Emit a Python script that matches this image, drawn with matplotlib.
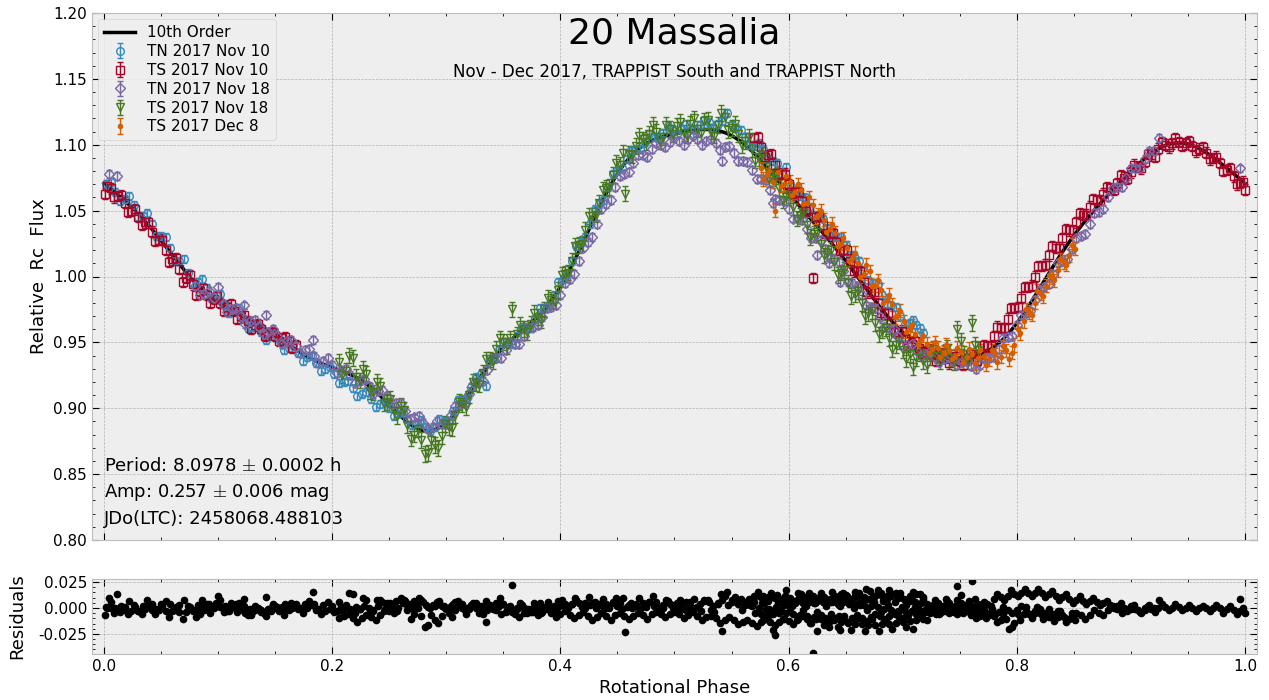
import numpy as np
import matplotlib
matplotlib.use("Agg")
import matplotlib.pyplot as plt
from matplotlib.ticker import AutoMinorLocator, MultipleLocator, FormatStrFormatter

# ── lightcurve data: (rotational phase, relative Rc flux) per night ──

tn_nov10_phase = [0.002, 0.010, 0.018, 0.026, 0.034, 0.042, 0.050, 0.058, 0.066, 0.074,
                  0.082, 0.090, 0.098, 0.106, 0.114, 0.122, 0.130, 0.138, 0.146, 0.154,
                  0.162, 0.170, 0.178, 0.186, 0.194, 0.202, 0.210, 0.218, 0.226, 0.234,
                  0.242, 0.250, 0.258, 0.266, 0.274, 0.282, 0.290, 0.298, 0.306, 0.314,
                  0.322, 0.330, 0.335, 0.338, 0.346, 0.354, 0.362, 0.370, 0.378, 0.386,
                  0.394, 0.402, 0.410, 0.418, 0.426, 0.434, 0.442, 0.450, 0.458, 0.466,
                  0.474, 0.482, 0.490, 0.498, 0.506, 0.514, 0.522, 0.530, 0.538, 0.546,
                  0.554, 0.562, 0.570, 0.578, 0.586, 0.594, 0.602, 0.610, 0.618, 0.626,
                  0.634, 0.642, 0.650, 0.658, 0.666, 0.674, 0.682, 0.690, 0.698, 0.706,
                  0.712, 0.718,
                  0.006, 0.014, 0.022, 0.030, 0.038, 0.046, 0.054, 0.062, 0.070, 0.078,
                  0.086, 0.094, 0.102, 0.110, 0.118, 0.126, 0.134, 0.142, 0.150, 0.158,
                  0.166, 0.174, 0.182, 0.190, 0.198, 0.206, 0.214, 0.222, 0.230, 0.238,
                  0.246, 0.254, 0.262, 0.270, 0.278, 0.286, 0.294, 0.302, 0.310, 0.318,
                  0.326, 0.342, 0.350, 0.358, 0.366, 0.374, 0.382, 0.390, 0.398, 0.406,
                  0.414, 0.422, 0.430, 0.438, 0.446, 0.454, 0.462, 0.470, 0.478, 0.486,
                  0.494, 0.502, 0.510, 0.518, 0.526, 0.534, 0.542, 0.550, 0.558, 0.566,
                  0.574, 0.582, 0.590, 0.598, 0.606, 0.614, 0.622, 0.630, 0.638, 0.646,
                  0.654, 0.662, 0.670, 0.678, 0.686, 0.694, 0.702, 0.709, 0.715]
tn_nov10_flux = [1.070, 1.064, 1.059, 1.054, 1.046, 1.040, 1.031, 1.022, 1.012, 1.003,
                 0.996, 0.991, 0.986, 0.979, 0.974, 0.968, 0.962, 0.958, 0.955, 0.951,
                 0.946, 0.942, 0.939, 0.934, 0.930, 0.926, 0.920, 0.915, 0.911, 0.907,
                 0.903, 0.900, 0.896, 0.892, 0.889, 0.886, 0.886, 0.890, 0.898, 0.907,
                 0.916, 0.926, 0.917, 0.936, 0.944, 0.950, 0.955, 0.961, 0.968, 0.976,
                 0.986, 0.998, 1.012, 1.026, 1.040, 1.055, 1.068, 1.080, 1.089, 1.097,
                 1.102, 1.106, 1.109, 1.111, 1.112, 1.113, 1.115, 1.117, 1.116, 1.124,
                 1.113, 1.106, 1.099, 1.097, 1.088, 1.078, 1.069, 1.061, 1.053, 1.045,
                 1.037, 1.030, 1.024, 1.014, 1.004, 0.995, 0.986, 0.978, 0.970, 0.965,
                 0.963, 0.957,
                 1.072, 1.057, 1.061, 1.045, 1.048, 1.031, 1.030, 1.012, 1.013, 0.995,
                 0.998, 0.984, 0.987, 0.972, 0.976, 0.961, 0.964, 0.952, 0.957, 0.944,
                 0.948, 0.936, 0.940, 0.928, 0.931, 0.919, 0.921, 0.909, 0.912, 0.901,
                 0.905, 0.894, 0.897, 0.887, 0.891, 0.883, 0.892, 0.890, 0.906, 0.908,
                 0.924, 0.937, 0.950, 0.949, 0.962, 0.961, 0.976, 0.978, 0.996, 1.002,
                 1.023, 1.030, 1.051, 1.058, 1.078, 1.082, 1.096, 1.097, 1.108, 1.105,
                 1.114, 1.108, 1.116, 1.111, 1.119, 1.113, 1.118, 1.115, 1.111, 1.100,
                 1.101, 1.089, 1.086, 1.083, 1.062, 1.060, 1.046, 1.044, 1.031, 1.030,
                 1.016, 1.012, 0.997, 0.994, 0.979, 0.977, 0.964, 0.967, 0.961]

ts_nov10_phase = [0.001, 0.006, 0.012, 0.018, 0.024, 0.030, 0.036, 0.042, 0.048, 0.054,
                  0.060, 0.066, 0.072, 0.078, 0.084, 0.090, 0.096, 0.102, 0.108, 0.114,
                  0.120, 0.126, 0.132, 0.138, 0.144, 0.150, 0.156, 0.162, 0.168,
                  0.570, 0.576, 0.582, 0.588, 0.594, 0.600, 0.606, 0.612, 0.618, 0.621,
                  0.624, 0.630, 0.636, 0.642, 0.648, 0.654, 0.660, 0.666, 0.672, 0.678,
                  0.684, 0.690, 0.696, 0.702, 0.708, 0.714, 0.720, 0.726, 0.732, 0.738,
                  0.744, 0.750, 0.756, 0.762, 0.768, 0.774, 0.780, 0.786, 0.792, 0.798,
                  0.804, 0.810, 0.816, 0.822, 0.828, 0.834, 0.840, 0.846, 0.852, 0.858,
                  0.864, 0.870, 0.876, 0.882, 0.888, 0.894, 0.900, 0.906, 0.912, 0.918,
                  0.924, 0.930, 0.936, 0.942, 0.948, 0.954, 0.960, 0.966, 0.972, 0.978,
                  0.984, 0.990, 0.996, 1.000,
                  0.003, 0.009, 0.015, 0.021, 0.027, 0.033, 0.039, 0.045, 0.051, 0.057,
                  0.063, 0.069, 0.075, 0.081, 0.087, 0.093, 0.099, 0.105, 0.111, 0.117,
                  0.123, 0.129, 0.135, 0.141, 0.147, 0.153, 0.159, 0.165,
                  0.573, 0.579, 0.585, 0.591, 0.597, 0.603, 0.609, 0.615, 0.627, 0.633,
                  0.639, 0.645, 0.651, 0.657, 0.663, 0.669, 0.675, 0.681, 0.687, 0.693,
                  0.699, 0.705, 0.711, 0.717, 0.723, 0.729, 0.735, 0.741, 0.747, 0.753,
                  0.759, 0.765, 0.771, 0.777, 0.783, 0.789, 0.795, 0.801, 0.807, 0.813,
                  0.819, 0.825, 0.831, 0.837, 0.843, 0.849, 0.855, 0.861, 0.867, 0.873,
                  0.879, 0.885, 0.891, 0.897, 0.903, 0.909, 0.915, 0.921, 0.927, 0.933,
                  0.939, 0.945, 0.951, 0.957, 0.963, 0.969, 0.975, 0.981, 0.987, 0.993,
                  0.998]
ts_nov10_flux = [1.063, 1.067, 1.061, 1.056, 1.050, 1.045, 1.041, 1.034, 1.028, 1.020,
                 1.013, 1.006, 0.999, 0.994, 0.989, 0.986, 0.983, 0.980, 0.977, 0.974,
                 0.970, 0.966, 0.963, 0.960, 0.957, 0.955, 0.953, 0.951, 0.948,
                 1.105, 1.098, 1.092, 1.085, 1.078, 1.070, 1.064, 1.057, 1.051, 0.999,
                 1.045, 1.039, 1.033, 1.026, 1.020, 1.012, 1.004, 0.996, 0.988, 0.980,
                 0.972, 0.965, 0.958, 0.953, 0.949, 0.946, 0.943, 0.941, 0.939, 0.938,
                 0.937, 0.936, 0.937, 0.938, 0.941, 0.947, 0.955, 0.961, 0.968, 0.976,
                 0.984, 0.992, 1.000, 1.008, 1.016, 1.022, 1.029, 1.035, 1.041, 1.047,
                 1.053, 1.058, 1.063, 1.067, 1.071, 1.075, 1.079, 1.083, 1.087, 1.092,
                 1.097, 1.100, 1.101, 1.102, 1.101, 1.099, 1.097, 1.094, 1.090, 1.086,
                 1.081, 1.076, 1.071, 1.066,
                 1.069, 1.060, 1.062, 1.049, 1.051, 1.039, 1.041, 1.027, 1.028, 1.011,
                 1.014, 0.996, 1.001, 0.986, 0.991, 0.980, 0.985, 0.974, 0.979, 0.968,
                 0.971, 0.960, 0.964, 0.955, 0.958, 0.951, 0.954, 0.946,
                 1.106, 1.091, 1.093, 1.077, 1.078, 1.063, 1.064, 1.050, 1.046, 1.032,
                 1.033, 1.019, 1.020, 1.004, 1.004, 0.988, 0.988, 0.972, 0.972, 0.958,
                 0.959, 0.947, 0.951, 0.941, 0.945, 0.936, 0.942, 0.934, 0.940, 0.933,
                 0.941, 0.936, 0.948, 0.947, 0.962, 0.961, 0.976, 0.977, 0.992, 0.993,
                 1.008, 1.009, 1.023, 1.022, 1.036, 1.035, 1.048, 1.047, 1.059, 1.058,
                 1.068, 1.066, 1.077, 1.074, 1.085, 1.082, 1.093, 1.091, 1.102, 1.098,
                 1.105, 1.099, 1.103, 1.095, 1.098, 1.089, 1.091, 1.080, 1.082, 1.070,
                 1.072]

tn_nov18_phase = [0.004, 0.011, 0.080, 0.088, 0.096, 0.100, 0.104, 0.112, 0.120, 0.123,
                  0.128, 0.136, 0.142, 0.144, 0.152, 0.160, 0.168, 0.176, 0.183, 0.184,
                  0.192, 0.200, 0.208, 0.216, 0.224, 0.232, 0.240, 0.248, 0.256, 0.264,
                  0.272, 0.280, 0.288, 0.296, 0.304, 0.312, 0.320, 0.328, 0.336, 0.344,
                  0.352, 0.360, 0.368, 0.376, 0.384, 0.392, 0.400, 0.408, 0.416, 0.424,
                  0.432, 0.440, 0.448, 0.456, 0.464, 0.472, 0.480, 0.488, 0.496, 0.504,
                  0.512, 0.520, 0.528, 0.536, 0.542, 0.544, 0.552, 0.560, 0.568, 0.576,
                  0.584, 0.586, 0.592, 0.600, 0.608, 0.616, 0.624, 0.625, 0.632, 0.635,
                  0.640, 0.645, 0.648, 0.656, 0.664, 0.672, 0.680, 0.688, 0.696, 0.704,
                  0.712, 0.720, 0.728, 0.736, 0.744, 0.752, 0.760, 0.768, 0.776, 0.784,
                  0.792, 0.800, 0.808, 0.816, 0.824, 0.832, 0.840, 0.848, 0.856, 0.864,
                  0.872, 0.880, 0.888, 0.896, 0.904, 0.912, 0.920, 0.925, 0.996,
                  0.084, 0.092, 0.108, 0.116, 0.124, 0.132, 0.140, 0.148, 0.156, 0.164,
                  0.172, 0.180, 0.188, 0.196, 0.204, 0.212, 0.220, 0.228, 0.236, 0.244,
                  0.252, 0.260, 0.268, 0.276, 0.284, 0.292, 0.300, 0.308, 0.316, 0.324,
                  0.332, 0.340, 0.348, 0.356, 0.364, 0.372, 0.380, 0.388, 0.396, 0.404,
                  0.412, 0.420, 0.428, 0.436, 0.444, 0.452, 0.460, 0.468, 0.476, 0.484,
                  0.492, 0.500, 0.508, 0.516, 0.524, 0.532, 0.540, 0.548, 0.556, 0.564,
                  0.572, 0.580, 0.588, 0.596, 0.604, 0.612, 0.620, 0.628, 0.636, 0.644,
                  0.652, 0.660, 0.668, 0.676, 0.684, 0.692, 0.700, 0.708, 0.716, 0.724,
                  0.732, 0.740, 0.748, 0.756, 0.764, 0.772, 0.780, 0.788, 0.796, 0.804,
                  0.812, 0.820, 0.828, 0.836, 0.844, 0.852, 0.860, 0.868, 0.876, 0.884,
                  0.892, 0.900, 0.908, 0.916]
tn_nov18_flux = [1.078, 1.076, 0.993, 0.987, 0.984, 0.992, 0.979, 0.975, 0.970, 0.978,
                 0.966, 0.962, 0.971, 0.958, 0.955, 0.951, 0.947, 0.944, 0.952, 0.940,
                 0.936, 0.933, 0.929, 0.925, 0.921, 0.917, 0.913, 0.909, 0.904, 0.898,
                 0.893, 0.889, 0.886, 0.888, 0.895, 0.903, 0.911, 0.920, 0.929, 0.938,
                 0.944, 0.949, 0.955, 0.962, 0.969, 0.977, 0.986, 0.998, 1.012, 1.026,
                 1.040, 1.055, 1.068, 1.078, 1.086, 1.092, 1.097, 1.100, 1.102, 1.103,
                 1.104, 1.104, 1.103, 1.101, 1.088, 1.098, 1.094, 1.088, 1.081, 1.074,
                 1.066, 1.056, 1.058, 1.051, 1.044, 1.036, 1.029, 1.016, 1.021, 1.010,
                 1.013, 0.996, 1.004, 0.995, 0.986, 0.977, 0.969, 0.961, 0.954, 0.948,
                 0.944, 0.941, 0.939, 0.937, 0.936, 0.935, 0.932, 0.933, 0.938, 0.945,
                 0.954, 0.963, 0.972, 0.982, 0.992, 1.002, 1.012, 1.021, 1.031, 1.040,
                 1.049, 1.060, 1.068, 1.075, 1.082, 1.089, 1.095, 1.105, 1.082,
                 0.986, 0.989, 0.973, 0.976, 0.964, 0.967, 0.956, 0.960, 0.949, 0.952,
                 0.942, 0.945, 0.934, 0.938, 0.927, 0.930, 0.919, 0.922, 0.911, 0.914,
                 0.903, 0.904, 0.892, 0.894, 0.884, 0.890, 0.888, 0.902, 0.904, 0.919,
                 0.921, 0.937, 0.938, 0.950, 0.949, 0.962, 0.963, 0.976, 0.978, 0.995,
                 1.002, 1.022, 1.030, 1.051, 1.058, 1.076, 1.079, 1.092, 1.091, 1.101,
                 1.098, 1.105, 1.100, 1.107, 1.100, 1.104, 1.096, 1.099, 1.088, 1.087,
                 1.074, 1.073, 1.059, 1.057, 1.044, 1.043, 1.029, 1.028, 1.014, 1.011,
                 0.996, 0.993, 0.978, 0.976, 0.962, 0.960, 0.948, 0.949, 0.940, 0.943,
                 0.935, 0.939, 0.933, 0.936, 0.930, 0.938, 0.939, 0.953, 0.955, 0.971,
                 0.974, 0.990, 0.994, 1.010, 1.013, 1.029, 1.032, 1.048, 1.051, 1.067,
                 1.068, 1.082, 1.082, 1.095]

ts_nov18_phase = [0.206, 0.212, 0.218, 0.224, 0.230, 0.236, 0.242, 0.248, 0.254, 0.260,
                  0.266, 0.272, 0.278, 0.284, 0.290, 0.296, 0.302, 0.308, 0.314, 0.320,
                  0.326, 0.332, 0.338, 0.344, 0.350, 0.356, 0.358, 0.362, 0.368, 0.374,
                  0.380, 0.386, 0.392, 0.398, 0.404, 0.410, 0.416, 0.422, 0.428, 0.434,
                  0.440, 0.446, 0.452, 0.455, 0.457, 0.460, 0.466, 0.472, 0.478, 0.484,
                  0.490, 0.496, 0.502, 0.508, 0.514, 0.520, 0.526, 0.532, 0.538, 0.544,
                  0.550, 0.556, 0.562, 0.568, 0.574, 0.580, 0.586, 0.592, 0.598, 0.604,
                  0.610, 0.616, 0.622, 0.628, 0.634, 0.640, 0.646, 0.652, 0.658, 0.664,
                  0.670, 0.676, 0.682, 0.688, 0.694, 0.700, 0.706, 0.709, 0.712, 0.718,
                  0.724, 0.730, 0.736, 0.742, 0.748, 0.754, 0.761, 0.766,
                  0.209, 0.215, 0.221, 0.227, 0.233, 0.239, 0.245, 0.251, 0.257, 0.263,
                  0.269, 0.275, 0.281, 0.287, 0.293, 0.299, 0.305, 0.311, 0.317, 0.323,
                  0.329, 0.335, 0.341, 0.347, 0.353, 0.365, 0.371, 0.377, 0.383, 0.389,
                  0.395, 0.401, 0.407, 0.413, 0.419, 0.425, 0.431, 0.437, 0.443, 0.449,
                  0.463, 0.469, 0.475, 0.481, 0.487, 0.493, 0.499, 0.505, 0.511, 0.517,
                  0.523, 0.529, 0.535, 0.541, 0.547, 0.553, 0.559, 0.565, 0.571, 0.577,
                  0.583, 0.589, 0.595, 0.601, 0.607, 0.613, 0.619, 0.625, 0.631, 0.637,
                  0.643, 0.649, 0.655, 0.661, 0.667, 0.673, 0.679, 0.685, 0.691, 0.697,
                  0.703, 0.715, 0.721, 0.727, 0.733, 0.739, 0.745, 0.751, 0.757, 0.763]
ts_nov18_flux = [0.935, 0.928, 0.938, 0.921, 0.926, 0.912, 0.917, 0.905, 0.898, 0.902,
                 0.887, 0.880, 0.876, 0.866, 0.872, 0.879, 0.886, 0.895, 0.903, 0.910,
                 0.919, 0.927, 0.937, 0.945, 0.950, 0.953, 0.975, 0.956, 0.960, 0.964,
                 0.969, 0.975, 0.982, 0.990, 1.002, 1.012, 1.024, 1.035, 1.046, 1.056,
                 1.067, 1.077, 1.085, 1.094, 1.063, 1.093, 1.099, 1.104, 1.108, 1.110,
                 1.106, 1.112, 1.114, 1.109, 1.116, 1.112, 1.118, 1.110, 1.115, 1.121,
                 1.113, 1.108, 1.103, 1.097, 1.090, 1.083, 1.075, 1.067, 1.060, 1.053,
                 1.046, 1.039, 1.032, 1.025, 1.018, 1.011, 1.003, 0.995, 0.987, 0.980,
                 0.972, 0.965, 0.959, 0.953, 0.948, 0.944, 0.941, 0.931, 0.938, 0.936,
                 0.939, 0.940, 0.942, 0.938, 0.960, 0.941, 0.965, 0.944,
                 0.925, 0.940, 0.924, 0.930, 0.913, 0.920, 0.904, 0.907, 0.894, 0.899,
                 0.877, 0.884, 0.865, 0.876, 0.870, 0.888, 0.885, 0.905, 0.901, 0.920,
                 0.918, 0.937, 0.936, 0.953, 0.947, 0.963, 0.958, 0.972, 0.967, 0.984,
                 0.981, 1.001, 1.003, 1.023, 1.025, 1.046, 1.047, 1.066, 1.068, 1.086,
                 1.092, 1.107, 1.102, 1.115, 1.103, 1.115, 1.108, 1.117, 1.107, 1.120,
                 1.109, 1.119, 1.107, 1.124, 1.111, 1.116, 1.100, 1.106, 1.088, 1.092,
                 1.074, 1.076, 1.058, 1.062, 1.044, 1.048, 1.030, 1.034, 1.016, 1.020,
                 1.001, 1.005, 0.985, 0.989, 0.970, 0.974, 0.956, 0.961, 0.945, 0.951,
                 0.937, 0.942, 0.933, 0.945, 0.936, 0.946, 0.935, 0.951, 0.936, 0.948]

ts_dec8_phase = [0.576, 0.581, 0.586, 0.588, 0.591, 0.596, 0.601, 0.606, 0.611, 0.616,
                 0.621, 0.626, 0.631, 0.636, 0.641, 0.646, 0.651, 0.656, 0.661, 0.666,
                 0.671, 0.676, 0.681, 0.686, 0.691, 0.696, 0.701, 0.706, 0.711, 0.716,
                 0.721, 0.726, 0.731, 0.736, 0.741, 0.746, 0.751, 0.756, 0.761, 0.766,
                 0.771, 0.776, 0.781, 0.786, 0.791, 0.796, 0.801, 0.806, 0.811, 0.816,
                 0.821, 0.826, 0.831, 0.836, 0.841, 0.846, 0.851,
                 0.578, 0.583, 0.593, 0.598, 0.603, 0.608, 0.613, 0.618, 0.623, 0.628,
                 0.633, 0.638, 0.643, 0.648, 0.653, 0.658, 0.663, 0.668, 0.673, 0.678,
                 0.683, 0.688, 0.693, 0.698, 0.703, 0.708, 0.713, 0.718, 0.723, 0.728,
                 0.733, 0.738, 0.743, 0.748, 0.753, 0.758, 0.763, 0.768, 0.773, 0.778,
                 0.783, 0.788, 0.793, 0.798, 0.803, 0.808, 0.813, 0.818, 0.823, 0.828,
                 0.833, 0.838, 0.843, 0.848]
ts_dec8_flux = [1.082, 1.077, 1.072, 1.050, 1.079, 1.070, 1.072, 1.064, 1.066, 1.056,
                1.054, 1.047, 1.043, 1.036, 1.033, 1.025, 1.022, 1.014, 1.010, 1.002,
                1.004, 0.993, 0.990, 0.982, 0.979, 0.971, 0.966, 0.960, 0.956, 0.952,
                0.949, 0.945, 0.946, 0.942, 0.944, 0.940, 0.943, 0.939, 0.941, 0.938,
                0.940, 0.937, 0.941, 0.939, 0.944, 0.942, 0.960, 0.966, 0.973, 0.980,
                0.987, 0.993, 0.999, 1.005, 1.011, 1.016, 1.021,
                1.074, 1.080, 1.069, 1.076, 1.062, 1.070, 1.055, 1.060, 1.045, 1.050,
                1.034, 1.040, 1.023, 1.029, 1.012, 1.018, 1.000, 1.009, 0.993, 0.997,
                0.980, 0.986, 0.969, 0.974, 0.958, 0.963, 0.949, 0.955, 0.942, 0.950,
                0.939, 0.948, 0.937, 0.946, 0.935, 0.945, 0.934, 0.944, 0.933, 0.944,
                0.935, 0.947, 0.937, 0.948, 0.957, 0.975, 0.971, 0.989, 0.985, 1.001,
                0.997, 1.013, 1.009, 1.024]

NIGHTS = [
    ("TN 2017 Nov 10", tn_nov10_phase, tn_nov10_flux, 0.003, "o", "#348ABD"),
    ("TS 2017 Nov 10", ts_nov10_phase, ts_nov10_flux, 0.004, "s", "#A60628"),
    ("TN 2017 Nov 18", tn_nov18_phase, tn_nov18_flux, 0.003, "D", "#7A68A6"),
    ("TS 2017 Nov 18", ts_nov18_phase, ts_nov18_flux, 0.006, "v", "#467821"),
    ("TS 2017 Dec 8",  ts_dec8_phase,  ts_dec8_flux,  0.005, ".", "#D55E00"),
]
FIT_ORDER = 10

# ── Fourier fit ────────────────────────────────────────────────

def fourier_design(phase, order):
    phase = np.asarray(phase)
    cols = [np.ones_like(phase)]
    for k in range(1, order + 1):
        cols.append(np.cos(2 * np.pi * k * phase))
        cols.append(np.sin(2 * np.pi * k * phase))
    return np.column_stack(cols)

all_phase = np.concatenate([np.asarray(n[1]) for n in NIGHTS])
all_flux  = np.concatenate([np.asarray(n[2]) for n in NIGHTS])
coef, *_ = np.linalg.lstsq(fourier_design(all_phase, FIT_ORDER), all_flux, rcond=None)
resid = all_flux - fourier_design(all_phase, FIT_ORDER) @ coef
grid = np.linspace(0, 1, 600)
model = fourier_design(grid, FIT_ORDER) @ coef

# ── plot ───────────────────────────────────────────────────────

plt.style.use("bmh")
fig = plt.figure(figsize=(12.69, 7.0), dpi=100)
fig.patch.set_facecolor("white")
ax  = fig.add_axes([0.0725, 0.2286, 0.918, 0.7528])
ax2 = fig.add_axes([0.0725, 0.0657, 0.918, 0.1071], sharex=ax)

ax.plot(grid, model, color="black", lw=2.5, zorder=1, label=f"{FIT_ORDER}th Order")
for label, ph, fl, err, mk, col in NIGHTS:
    filled = mk == "."
    ax.errorbar(ph, fl, yerr=err, fmt=mk, color=col, ecolor=col,
                mfc=col if filled else "none", mec=col,
                ms=6 if filled else 5.5, mew=1, elinewidth=1, capsize=2,
                capthick=1, label=label, zorder=2)

ax.set_xlim(-0.0105, 1.0105)
ax.set_ylim(0.80, 1.20)
ax.yaxis.set_major_locator(MultipleLocator(0.05))
ax.xaxis.set_major_locator(MultipleLocator(0.2))
ax.set_ylabel("Relative  Rc  Flux", fontsize=13)
plt.setp(ax.get_xticklabels(), visible=False)

ax.text(0.5, 0.962, "20 Massalia", transform=ax.transAxes, ha="center",
        va="center", fontsize=26)
ax.text(0.5, 0.888, "Nov - Dec 2017, TRAPPIST South and TRAPPIST North",
        transform=ax.transAxes, ha="center", va="center", fontsize=12)

ax.text(0.0, 0.856, r"Period: 8.0978 $\pm$ 0.0002 h", fontsize=13, va="center")
ax.text(0.0, 0.836, r"Amp: 0.257 $\pm$ 0.006 mag", fontsize=13, va="center")
ax.text(0.0, 0.816, "JDo(LTC): 2458068.488103", fontsize=13, va="center")

ax.legend(loc="upper left", fontsize=11, borderaxespad=0.4,
          handlelength=2.0, labelspacing=0.25)

ax2.plot(all_phase, resid, "o", color="black", ms=4.5)
ax2.set_ylim(-0.0445, 0.028)
ax2.yaxis.set_major_locator(MultipleLocator(0.025))
ax2.yaxis.set_major_formatter(FormatStrFormatter("%.3f"))
ax2.set_ylabel("Residuals", fontsize=13, labelpad=9)
ax2.set_xlabel("Rotational Phase", fontsize=13)

for a in (ax, ax2):
    a.xaxis.set_minor_locator(AutoMinorLocator())
    a.yaxis.set_minor_locator(AutoMinorLocator())
    a.tick_params(which="both", direction="in", top=True, right=True,
                  labelsize=11, color="black")
    a.tick_params(which="major", length=5)
    a.tick_params(which="minor", length=2.5)
    a.grid(True, which="major")

fig.savefig("out.png", dpi=100, facecolor="white")
